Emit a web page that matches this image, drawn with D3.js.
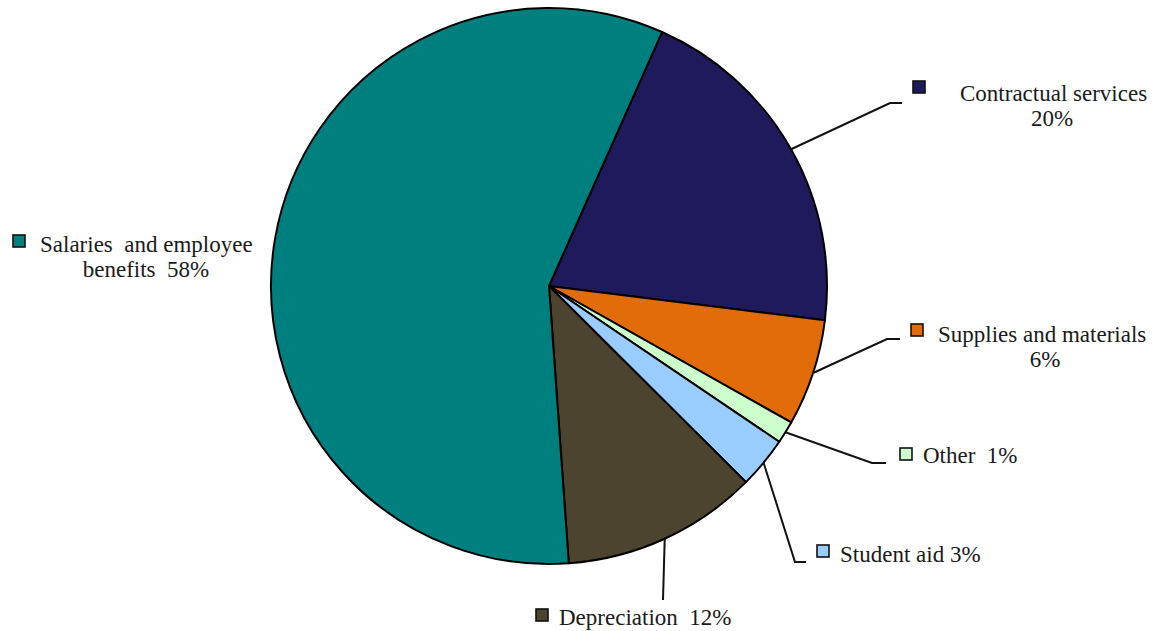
<!DOCTYPE html>
<html>
<head>
<meta charset="utf-8">
<script src="https://cdn.jsdelivr.net/npm/d3@7"></script>
<style>
  html, body { margin: 0; padding: 0; background: #fff; }
</style>
</head>
<body>
<svg id="chart" width="1161" height="631"></svg>
<script>
// Datos (en orden horario desde arriba)
const categories = ['Contractual services', 'Supplies and materials', 'Other', 'Student aid', 'Depreciation', 'Salaries and employee benefits'];
const values = [20.3, 6.2, 1.3, 3.0, 11.4, 57.8];
const pctLabels = ['20%', '6%', '1%', '3%', '12%', '58%'];
const COLORS = ['#1f1a5c', '#e36c0a', '#ccffcc', '#99ccff', '#4d4430', '#007f7f'];

// Dimensiones
const width = 1161;
const height = 631;
const cx = 549;
const cy = 286;
const radius = 278;
const startDeg = 24;
const FONT = '"Liberation Serif", "Times New Roman", "DejaVu Serif", serif';

// Etiquetas: lineas de texto, posicion del marcador, codo de la guia
const labelLayout = [
    { lines: ['Contractual services', '20%'], box: [913, 81], text: [960, 101], center: 1052, elbow: [[890, 103], [902, 103]] },
    { lines: ['Supplies and materials', '6%'], box: [911, 324], text: [938, 342], center: 1045, elbow: [[887, 339], [900, 339]] },
    { lines: ['Other  1%'], box: [900, 448], text: [923, 463], elbow: [[872, 463], [886, 463]] },
    { lines: ['Student aid 3%'], box: [817, 545], text: [840, 562], elbow: [[795, 562], [806, 562]] },
    { lines: ['Depreciation  12%'], box: [536, 609], text: [559, 625], elbow: [[663, 600]] },
    { lines: ['Salaries  and employee', 'benefits  58%'], box: [13, 235], text: [40, 252], center: 146, elbow: null }
];

const svg = d3.select('#chart');
const g = svg.append('g').attr('transform', `translate(${cx}, ${cy})`);

const data = categories.map((c, i) => ({ name: c, value: values[i], pct: pctLabels[i], color: COLORS[i], layout: labelLayout[i] }));

const pie = d3.pie()
    .sort(null)
    .value(d => d.value)
    .startAngle(startDeg * Math.PI / 180)
    .endAngle(startDeg * Math.PI / 180 + 2 * Math.PI);

const arc = d3.arc().innerRadius(0).outerRadius(radius);
const arcs = pie(data);

g.selectAll('path.slice')
    .data(arcs)
    .join('path')
    .attr('class', 'slice')
    .attr('d', arc)
    .attr('fill', d => d.data.color)
    .attr('stroke', '#000')
    .attr('stroke-width', 2)
    .attr('stroke-linejoin', 'round');

// lineas guia
const line = d3.line();
arcs.forEach(d => {
    const lay = d.data.layout;
    if (!lay.elbow) return;
    const mid = (d.startAngle + d.endAngle) / 2;
    const p0 = [cx + radius * Math.sin(mid), cy - radius * Math.cos(mid)];
    svg.append('path')
        .attr('d', line([p0, ...lay.elbow]))
        .attr('fill', 'none')
        .attr('stroke', '#111')
        .attr('stroke-width', 2);
});

// leyendas
const fontSize = 23;
arcs.forEach(d => {
    const lay = d.data.layout;
    svg.append('rect')
        .attr('x', lay.box[0])
        .attr('y', lay.box[1])
        .attr('width', 12)
        .attr('height', 12)
        .attr('fill', d.data.color)
        .attr('stroke', '#111')
        .attr('stroke-width', 1.6);

    lay.lines.forEach((t, j) => {
        const txt = svg.append('text')
            .attr('y', lay.text[1] + j * 25)
            .attr('font-family', FONT)
            .attr('font-size', fontSize)
            .attr('fill', '#1a1a1a')
            .style('white-space', 'pre')
            .attr('xml:space', 'preserve')
            .text(t);
        if (j === 0) {
            txt.attr('x', lay.text[0]);
        } else {
            txt.attr('x', lay.center).attr('text-anchor', 'middle');
        }
    });
});
</script>
</body>
</html>
